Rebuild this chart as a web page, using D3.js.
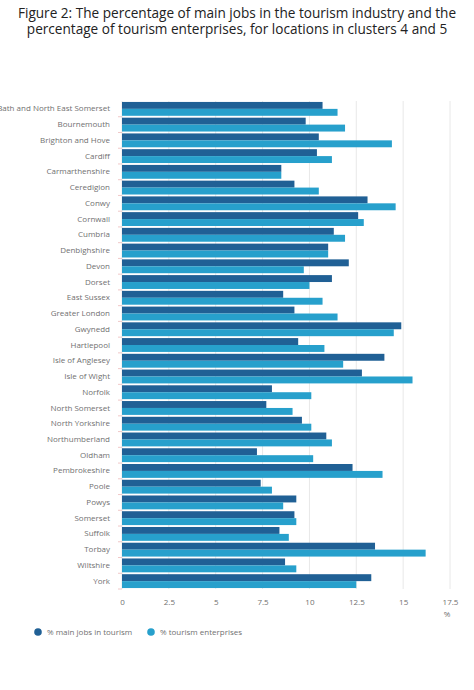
<!DOCTYPE html>
<html><head><meta charset="utf-8">
<script src="https://cdn.jsdelivr.net/npm/d3@7"></script>
<style>
body{margin:0;background:#fff;font-family:"Open Sans",sans-serif}
svg text{font-family:"Open Sans",sans-serif}
.title{font-size:13.6px;fill:#222}
.tick text{fill:#707070;font-size:8px}
</style></head><body>
<svg id="c" width="474" height="690"></svg>
<script>
const places = ["Bath and North East Somerset","Bournemouth","Brighton and Hove","Cardiff","Carmarthenshire","Ceredigion","Conwy","Cornwall","Cumbria","Denbighshire","Devon","Dorset","East Sussex","Greater London","Gwynedd","Hartlepool","Isle of Anglesey","Isle of Wight","Norfolk","North Somerset","North Yorkshire","Northumberland","Oldham","Pembrokeshire","Poole","Powys","Somerset","Suffolk","Torbay","Wiltshire","York"]
const jobs = [10.7,9.8,10.5,10.4,8.5,9.2,13.1,12.6,11.3,11.0,12.1,11.2,8.6,9.2,14.9,9.4,14.0,12.8,8.0,7.7,9.6,10.9,7.2,12.3,7.4,9.3,9.2,8.4,13.5,8.7,13.3]
const enterprises = [11.5,11.9,14.4,11.2,8.5,10.5,14.6,12.9,11.9,11.0,9.7,10.0,10.7,11.5,14.5,10.8,11.8,15.5,10.1,9.1,10.1,11.2,10.2,13.9,8.0,8.6,9.3,8.9,16.2,9.3,12.5]
const ticks = [0,2.5,5,7.5,10,12.5,15,17.5]
const seriesNames = ["% main jobs in tourism","% tourism enterprises"]
const colours = ["#206095","#27a0cc"]

const svg = d3.select("#c")
svg.append("text").attr("class","title").attr("x",237).attr("y",18).attr("text-anchor","middle")
  .text("Figure 2: The percentage of main jobs in the tourism industry and the")
svg.append("text").attr("class","title").attr("x",237).attr("y",34).attr("text-anchor","middle")
  .text("percentage of tourism enterprises, for locations in clusters 4 and 5")

const x = d3.scaleLinear().domain([0,17.5]).range([122,450])
const y = d3.scaleBand().domain(places).range([101,589]).paddingInner(0.12).paddingOuter(0.06)
const sub = d3.scaleBand().domain([0,1]).range([0,y.bandwidth()])

// grid
svg.append("g").selectAll("line").data(ticks).join("line")
  .attr("x1",d=>x(d)).attr("x2",d=>x(d)).attr("y1",101).attr("y2",589)
  .attr("stroke","#e8e8e8")

const rows = svg.append("g").selectAll("g").data(places).join("g")
  .attr("transform",d=>`translate(0,${y(d)})`)
rows.selectAll("rect").data((d,i)=>[jobs[i],enterprises[i]]).join("rect")
  .attr("x",x(0)).attr("y",(d,j)=>sub(j)).attr("height",sub.bandwidth())
  .attr("width",d=>x(d)-x(0)).attr("fill",(d,j)=>colours[j])

const ya = svg.append("g").attr("transform","translate(118,0)")
  .call(d3.axisLeft(y).tickSize(4).tickPadding(4))
ya.attr("font-family",null)
ya.select(".domain").remove()
ya.selectAll(".tick line").attr("stroke","#f0c8c8").attr("transform","translate(4,0)")
  .attr("y1",y.step()/2).attr("y2",y.step()/2)
ya.selectAll(".tick text").attr("dy","0.32em")

const xa = svg.append("g").attr("transform","translate(0,592)")
  .call(d3.axisBottom(x).tickValues(ticks).tickSize(0).tickPadding(7).tickFormat(d3.format("~g")))
xa.attr("font-family",null)
xa.select(".domain").remove()
svg.append("text").attr("x",447).attr("y",617).attr("font-size",8).attr("fill","#707070")
  .attr("text-anchor","middle").text("%")

const lg = svg.append("g").selectAll("g").data(seriesNames).join("g")
  .attr("transform",(d,i)=>`translate(${[38,151][i]},632)`)
lg.append("circle").attr("r",3.8).attr("fill",(d,i)=>colours[i])
lg.append("text").attr("x",9).attr("dy","0.35em").attr("font-size",8).attr("fill","#707070").text(d=>d)
</script></body></html>
